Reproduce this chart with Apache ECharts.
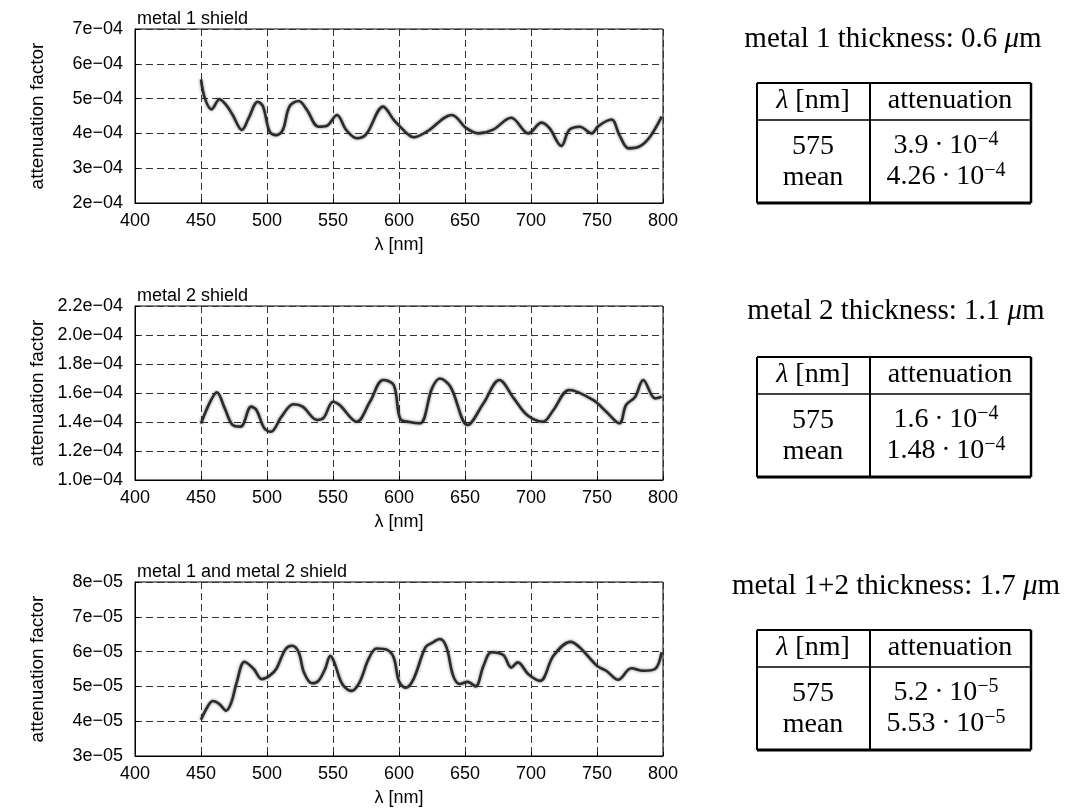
<!DOCTYPE html>
<html>
<head>
<meta charset="utf-8">
<script src="https://cdn.jsdelivr.net/npm/echarts@6/dist/echarts.min.js"></script>
<style>
  html, body { margin: 0; padding: 0; background: #fff; }
  #chart { width: 1065px; height: 811px; }
</style>
</head>
<body>
<div id="chart"></div>
<script>
// Wavelength axis ticks (nm)
const xTicks = ['400', '450', '500', '550', '600', '650', '700', '750', '800'];

// Metal 1 shield: attenuation factor vs wavelength
const wl1 = [450, 453, 458, 464, 469, 474, 481, 486, 493, 497, 502, 507, 512, 517, 524, 530,
  539, 545, 553, 560, 568, 575, 588, 596, 601, 606, 611, 621, 640, 651, 660, 671, 685, 698,
  708, 714, 723, 729, 737, 746, 751, 761, 767, 774, 783, 791, 799];
const att1 = [5.55e-4, 5.0e-4, 4.69e-4, 4.98e-4, 4.82e-4, 4.53e-4, 4.10e-4, 4.43e-4, 4.91e-4,
  4.77e-4, 4.05e-4, 3.95e-4, 4.10e-4, 4.77e-4, 4.93e-4, 4.69e-4, 4.19e-4, 4.21e-4, 4.53e-4,
  4.10e-4, 3.86e-4, 3.97e-4, 4.77e-4, 4.39e-4, 4.19e-4, 4.0e-4, 3.89e-4, 4.05e-4, 4.53e-4,
  4.15e-4, 4.0e-4, 4.10e-4, 4.45e-4, 4.0e-4, 4.31e-4, 4.15e-4, 3.64e-4, 4.10e-4, 4.19e-4,
  4.0e-4, 4.21e-4, 4.40e-4, 3.95e-4, 3.57e-4, 3.64e-4, 3.95e-4, 4.48e-4];
const yTicks1 = ['2e\u221204', '3e\u221204', '4e\u221204', '5e\u221204', '6e\u221204', '7e\u221204'];

// Metal 2 shield
const wl2 = [450, 457, 462, 468, 474, 480, 488, 492, 498, 503, 511, 520, 527, 538, 543, 550,
  555, 568, 578, 588, 596, 601, 608, 616, 625, 631, 639, 652, 664, 676, 687, 697, 709, 717,
  729, 747, 757, 767, 772, 779, 785, 794, 799];
const att2 = [1.39e-4, 1.54e-4, 1.605e-4, 1.494e-4, 1.379e-4, 1.368e-4, 1.506e-4, 1.483e-4,
  1.356e-4, 1.333e-4, 1.437e-4, 1.522e-4, 1.506e-4, 1.414e-4, 1.430e-4, 1.540e-4, 1.517e-4,
  1.402e-4, 1.54e-4, 1.69e-4, 1.655e-4, 1.42e-4, 1.40e-4, 1.391e-4, 1.632e-4, 1.70e-4,
  1.643e-4, 1.379e-4, 1.529e-4, 1.69e-4, 1.563e-4, 1.448e-4, 1.402e-4, 1.483e-4, 1.621e-4,
  1.552e-4, 1.471e-4, 1.391e-4, 1.517e-4, 1.574e-4, 1.69e-4, 1.563e-4, 1.574e-4];
const yTicks2 = ['1.0e\u221204', '1.2e\u221204', '1.4e\u221204', '1.6e\u221204', '1.8e\u221204',
  '2.0e\u221204', '2.2e\u221204'];

// Metal 1 and metal 2 shield
const wl3 = [450, 454, 459, 464, 469, 473, 477, 483, 490, 496, 502, 507, 514, 519, 524, 528,
  534, 539, 544, 548, 551, 557, 564, 570, 577, 583, 591, 596, 600, 605, 611, 620, 625, 631,
  636, 641, 646, 652, 658, 664, 670, 679, 685, 690, 698, 707, 717, 730, 737, 750, 757, 766,
  776, 785, 794, 799];
const att3 = [4.04e-5, 4.35e-5, 4.58e-5, 4.49e-5, 4.30e-5, 4.54e-5, 5.11e-5, 5.71e-5, 5.50e-5,
  5.21e-5, 5.31e-5, 5.50e-5, 6.07e-5, 6.17e-5, 5.98e-5, 5.40e-5, 5.09e-5, 5.16e-5, 5.50e-5,
  5.88e-5, 5.69e-5, 5.07e-5, 4.87e-5, 5.11e-5, 5.79e-5, 6.09e-5, 6.05e-5, 5.83e-5, 5.15e-5,
  4.96e-5, 5.21e-5, 6.12e-5, 6.25e-5, 6.36e-5, 6.12e-5, 5.31e-5, 5.07e-5, 5.13e-5, 5.0e-5,
  5.59e-5, 5.98e-5, 5.90e-5, 5.54e-5, 5.69e-5, 5.35e-5, 5.16e-5, 5.88e-5, 6.28e-5, 6.12e-5,
  5.59e-5, 5.45e-5, 5.19e-5, 5.52e-5, 5.45e-5, 5.50e-5, 5.98e-5];
const yTicks3 = ['3e\u221205', '4e\u221205', '5e\u221205', '6e\u221205', '7e\u221205', '8e\u221205'];

// Panel titles and summary tables
const plotTitles = ['metal 1 shield', 'metal 2 shield', 'metal 1 and metal 2 shield'];
const layerNames = ['metal 1', 'metal 2', 'metal 1+2'];
const thickness = ['0.6', '1.1', '1.7'];
const rowLabels = ['575', 'mean'];
const mantissa575 = ['3.9', '1.6', '5.2'];
const mantissaMean = ['4.26', '1.48', '5.53'];
const exponents = ['\u22124', '\u22124', '\u22125'];

const SANS = 'Liberation Sans, Arial, Helvetica, sans-serif';
const SERIF = 'Liberation Serif, Times New Roman, serif';

const panels = [
  { wl: wl1, att: att1, ticks: yTicks1, min: 2e-4, max: 7e-4, step: 1e-4 },
  { wl: wl2, att: att2, ticks: yTicks2, min: 1.0e-4, max: 2.2e-4, step: 0.2e-4 },
  { wl: wl3, att: att3, ticks: yTicks3, min: 3e-5, max: 8e-5, step: 1e-5 }
];
const gridTops = [29, 306, 582];
const tableTops = [83, 357, 630];
const headTitleY = [39, 311, 586];
const headTitleX = [893, 896, 896];

const grids = [], xAxes = [], yAxes = [], series = [], titles = [], graphics = [];

panels.forEach((p, i) => {
  grids.push({ left: 135, top: gridTops[i], width: 528, height: 174, show: true,
    borderColor: '#000', borderWidth: 1, backgroundColor: 'transparent' });
  xAxes.push({
    type: 'value', gridIndex: i, min: 400, max: 800, interval: 50,
    name: '\u03bb [nm]', nameLocation: 'middle', nameGap: 33,
    nameTextStyle: { fontFamily: SANS, fontSize: 18, color: '#000' },
    axisLine: { show: true, lineStyle: { color: '#000', width: 1 } },
    axisTick: { show: true, inside: true, length: 4, lineStyle: { color: '#000' } },
    axisLabel: { fontFamily: SANS, fontSize: 18, color: '#000', margin: 9,
      formatter: (v, idx) => xTicks[idx] },
    splitLine: { show: true, lineStyle: { color: '#333', type: [7, 4], width: 1 } }
  });
  yAxes.push({
    type: 'value', gridIndex: i, min: p.min, max: p.max, interval: p.step,
    name: 'attenuation factor', nameLocation: 'middle', nameGap: 88,
    nameTextStyle: { fontFamily: SANS, fontSize: 19, color: '#000' },
    axisLine: { show: true, lineStyle: { color: '#000', width: 1 } },
    axisTick: { show: true, inside: true, length: 4, lineStyle: { color: '#000' } },
    axisLabel: { fontFamily: SANS, fontSize: 18, color: '#000', margin: 12,
      formatter: (v, idx) => p.ticks[idx] },
    splitLine: { show: true, lineStyle: { color: '#333', type: [7, 4], width: 1 } }
  });
  series.push({
    type: 'line', xAxisIndex: i, yAxisIndex: i, symbol: 'none', smooth: 0.35,
    data: p.wl.map((w, k) => [w, p.att[k]]),
    lineStyle: { color: '#2b2b2b', width: 2.6, shadowColor: 'rgba(0,0,0,0.55)', shadowBlur: 3 },
    animation: false, z: 3
  });
  titles.push({ text: plotTitles[i], left: 137, top: gridTops[i] - 19, padding: 0,
    textStyle: { fontFamily: SANS, fontSize: 18, fontWeight: 'normal', color: '#000' } });

  // thickness heading
  const serifRich = {
    n: { fontFamily: SERIF, fontSize: 28, color: '#000', lineHeight: 32 },
    i: { fontFamily: SERIF, fontSize: 28, fontStyle: 'italic', color: '#000', lineHeight: 32 },
    s: { fontFamily: SERIF, fontSize: 20, color: '#000', lineHeight: 18, verticalAlign: 'top' }
  };
  const headRich = {
    n: { fontFamily: SERIF, fontSize: 29, color: '#000', lineHeight: 32 },
    i: { fontFamily: SERIF, fontSize: 29, fontStyle: 'italic', color: '#000', lineHeight: 32 }
  };
  graphics.push({ type: 'text', x: headTitleX[i], y: headTitleY[i],
    style: { text: '{n|' + layerNames[i] + ' thickness: ' + thickness[i] + ' }{i|\u03bc}{n|m}',
      rich: headRich, align: 'center', verticalAlign: 'middle' } });

  // summary table
  const t = tableTops[i];
  const L = 757, R = 1031, M = 870, H = 120, HS = 37;
  const lines = [
    [L, t, R, t, 2], [L, t, L, t + H, 2], [R, t, R, t + H, 2.5],
    [L, t + H, R, t + H, 3], [L, t + HS, R, t + HS, 1.6], [M, t, M, t + H, 2]
  ];
  lines.forEach(s => graphics.push({ type: 'line',
    shape: { x1: s[0], y1: s[1], x2: s[2], y2: s[3] },
    style: { stroke: '#000', lineWidth: s[4] } }));
  const cellText = (x, y, txt) => graphics.push({ type: 'text', x: x, y: y,
    style: { text: txt, rich: serifRich, align: 'center', verticalAlign: 'middle' } });
  cellText(813, t + 18, '{i|\u03bb}{n| [nm]}');
  cellText(950, t + 18, '{n|attenuation}');
  cellText(813, t + 64, '{n|' + rowLabels[0] + '}');
  cellText(813, t + 95, '{n|' + rowLabels[1] + '}');
  cellText(946, t + 63, '{n|' + mantissa575[i] + '\u2009\u00b7\u200910}{s|' + exponents[i] + '}');
  cellText(946, t + 94, '{n|' + mantissaMean[i] + '\u2009\u00b7\u200910}{s|' + exponents[i] + '}');
});

const chart = echarts.init(document.getElementById('chart'), null, { renderer: 'canvas' });
chart.setOption({
  backgroundColor: '#fff',
  animation: false,
  title: titles,
  grid: grids,
  xAxis: xAxes,
  yAxis: yAxes,
  series: series,
  graphic: graphics
});
</script>
</body>
</html>
